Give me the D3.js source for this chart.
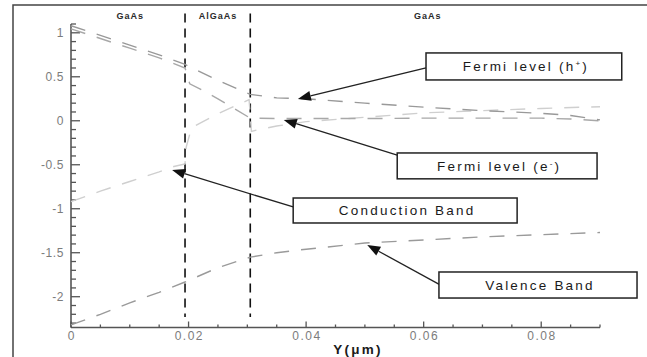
<!doctype html>
<html lang="en">
<head>
<meta charset="utf-8">
<script src="https://cdn.jsdelivr.net/npm/d3@7/dist/d3.min.js"></script>
<style>
  html, body { margin: 0; padding: 0; background: #fff; }
  svg { display: block; font-family: "Liberation Sans", Arial, sans-serif; }
</style>
</head>
<body>
<svg id="chart" width="647" height="357"></svg>
<script>
// band diagram values (x in um, energy in eV)
const holeFermiX = [0, 0.005, 0.01, 0.015, 0.0194, 0.025, 0.0305, 0.035, 0.04, 0.05, 0.06, 0.07, 0.08, 0.085, 0.09];
const holeFermiY = [1.08, 0.97, 0.86, 0.75, 0.64, 0.46, 0.30, 0.26, 0.25, 0.20, 0.155, 0.115, 0.085, 0.06, 0.01];

const elecFermiX = [0, 0.005, 0.01, 0.015, 0.0194, 0.0202, 0.022, 0.025, 0.028, 0.0305, 0.035, 0.04, 0.05, 0.06, 0.07, 0.08, 0.085, 0.09];
const elecFermiY = [1.045, 0.935, 0.825, 0.715, 0.60, 0.42, 0.36, 0.25, 0.13, 0.03, 0.025, 0.025, 0.025, 0.03, 0.03, 0.03, 0.02, 0.0];

const condX = [0, 0.005, 0.01, 0.015, 0.0175, 0.0194, 0.0196, 0.0205, 0.025, 0.0303, 0.0307, 0.032, 0.035, 0.04, 0.05, 0.06, 0.07, 0.08, 0.09];
const condY = [-0.92, -0.80, -0.69, -0.58, -0.52, -0.49, -0.30, -0.08, 0.08, 0.24, -0.12, -0.10, -0.06, -0.01, 0.04, 0.09, 0.115, 0.14, 0.16];

const valX = [0, 0.005, 0.01, 0.015, 0.0195, 0.025, 0.0305, 0.035, 0.04, 0.05, 0.06, 0.07, 0.08, 0.09];
const valY = [-2.32, -2.20, -2.07, -1.95, -1.83, -1.67, -1.55, -1.50, -1.46, -1.39, -1.355, -1.32, -1.295, -1.27];

const interfaces = [0.0194, 0.0305];
const regions = [
  { name: "GaAs", x: 0.0101 },
  { name: "AlGaAs", x: 0.025 },
  { name: "GaAs", x: 0.0607 }
];
const xTicks = [0, 0.02, 0.04, 0.06, 0.08];
const yTicks = [-2, -1.5, -1, -0.5, 0, 0.5, 1];

// annotation boxes (data coords) and arrow tips
const notes = [
  { text: "Fermi level (h", sup: "+", x0: 0.0604, x1: 0.0937, y0: 0.771, y1: 0.464, from: [0.0604, 0.60], tip: [0.0386, 0.248] },
  { text: "Fermi level (e", sup: "-", x0: 0.0555, x1: 0.0895, y0: -0.366, y1: -0.66, from: [0.0555, -0.39], tip: [0.0362, 0.01] },
  { text: "Conduction Band", sup: null, x0: 0.0378, x1: 0.0759, y0: -0.878, y1: -1.162, from: [0.0378, -0.98], tip: [0.0172, -0.559] },
  { text: "Valence Band", sup: null, x0: 0.0626, x1: 0.0963, y0: -1.719, y1: -2.015, from: [0.0628, -1.866], tip: [0.0504, -1.412] }
];

const svg = d3.select("#chart");
const x = d3.scaleLinear().domain([0, 0.09]).range([71, 600]);
const y = d3.scaleLinear().domain([-2.35, 1.1]).range([327.5, 24]);

// outer frame (top + left edges visible)
svg.append("path")
  .attr("d", "M13,357V5H647")
  .attr("fill", "none").attr("stroke", "#444").attr("stroke-width", 1.5);

// axes
const axisColor = "#555";
svg.append("line").attr("x1", x(0)).attr("x2", x(0.09)).attr("y1", y(-2.35)).attr("y2", y(-2.35))
  .attr("stroke", axisColor).attr("stroke-width", 1.6);
svg.append("line").attr("x1", x(0)).attr("x2", x(0)).attr("y1", y(1.1)).attr("y2", y(-2.35))
  .attr("stroke", axisColor).attr("stroke-width", 1.6);

const xMinor = d3.range(0, 0.0901, 0.005);
svg.append("g").selectAll("line").data(xMinor).join("line")
  .attr("x1", d => x(d)).attr("x2", d => x(d))
  .attr("y1", y(-2.35))
  .attr("y2", d => y(-2.35) - (xTicks.some(t => Math.abs(t - d) < 1e-9) ? 6 : 3))
  .attr("stroke", axisColor).attr("stroke-width", 1.3);

const yMinor = d3.range(-23, 12).map(i => i / 10);
svg.append("g").selectAll("line").data(yMinor).join("line")
  .attr("y1", d => y(d)).attr("y2", d => y(d))
  .attr("x1", x(0))
  .attr("x2", d => x(0) + (yTicks.some(t => Math.abs(t - d) < 1e-9) ? 9 : 5))
  .attr("stroke", axisColor).attr("stroke-width", 1.3);

svg.append("g").selectAll("text").data(xTicks).join("text")
  .attr("x", d => x(d) + 0.8).attr("y", 340)
  .attr("text-anchor", "middle")
  .attr("font-size", 12).attr("letter-spacing", 1.5).attr("fill", "#7c7c7c")
  .text(d => d === 0 ? "0" : d3.format(".2f")(d));

svg.append("g").selectAll("text").data(yTicks).join("text")
  .attr("x", 64).attr("y", d => y(d) + 4)
  .attr("text-anchor", "end")
  .attr("font-size", 12).attr("letter-spacing", 0.6).attr("fill", "#7c7c7c")
  .text(d => d);

svg.append("text").attr("x", 358).attr("y", 354)
  .attr("text-anchor", "middle").attr("font-size", 13.5).attr("font-weight", "bold")
  .attr("letter-spacing", 2.2).attr("fill", "#1a1a1a")
  .text("Y(\u03bcm)");

// heterointerfaces
svg.append("g").selectAll("line").data(interfaces).join("line")
  .attr("x1", d => x(d)).attr("x2", d => x(d))
  .attr("y1", y(1.22)).attr("y2", y(-2.23))
  .attr("stroke", "#111").attr("stroke-width", 1.6).attr("stroke-dasharray", "9,6");

svg.append("g").selectAll("text").data(regions).join("text")
  .attr("x", d => x(d.x)).attr("y", 19)
  .attr("text-anchor", "middle").attr("font-size", 9).attr("font-weight", "bold")
  .attr("letter-spacing", 1).attr("fill", "#2a2a2a")
  .text(d => d.name);

// band curves
const line = d3.line().x(d => x(d[0])).y(d => y(d[1]));
const curves = [
  { xs: valX, ys: valY, color: "#9a9a9a" },
  { xs: condX, ys: condY, color: "#cfcfcf" },
  { xs: elecFermiX, ys: elecFermiY, color: "#a8a8a8" },
  { xs: holeFermiX, ys: holeFermiY, color: "#999" }
];
svg.append("g").selectAll("path").data(curves).join("path")
  .attr("d", c => line(d3.zip(c.xs, c.ys)))
  .attr("fill", "none").attr("stroke", c => c.color)
  .attr("stroke-width", 1.4).attr("stroke-dasharray", "15,12");

// annotations
const ann = svg.append("g");
notes.forEach(n => {
  const fx = x(n.from[0]), fy = y(n.from[1]);
  const tx = x(n.tip[0]), ty = y(n.tip[1]);
  const ang = Math.atan2(ty - fy, tx - fx);
  const len = 13, half = 5;
  const bx = tx - len * Math.cos(ang), by = ty - len * Math.sin(ang);
  ann.append("line").attr("x1", fx).attr("y1", fy).attr("x2", bx).attr("y2", by)
    .attr("stroke", "#222").attr("stroke-width", 1.3);
  ann.append("path")
    .attr("d", `M${tx},${ty}L${bx + half * Math.sin(ang)},${by - half * Math.cos(ang)}L${bx - half * Math.sin(ang)},${by + half * Math.cos(ang)}Z`)
    .attr("fill", "#111");
  ann.append("rect")
    .attr("x", x(n.x0)).attr("y", y(n.y0))
    .attr("width", x(n.x1) - x(n.x0)).attr("height", y(n.y1) - y(n.y0))
    .attr("fill", "#fff").attr("stroke", "#222").attr("stroke-width", 1.5);
  const t = ann.append("text")
    .attr("x", (x(n.x0) + x(n.x1)) / 2 + 2)
    .attr("y", (y(n.y0) + y(n.y1)) / 2 + 5)
    .attr("text-anchor", "middle").attr("font-size", 13.5)
    .attr("letter-spacing", 2.2).attr("fill", "#1a1a1a");
  t.append("tspan").text(n.text);
  if (n.sup) {
    t.append("tspan").attr("dy", -5).attr("font-size", 8).text(n.sup);
    t.append("tspan").attr("dy", 5).text(")");
  }
});
</script>
</body>
</html>
